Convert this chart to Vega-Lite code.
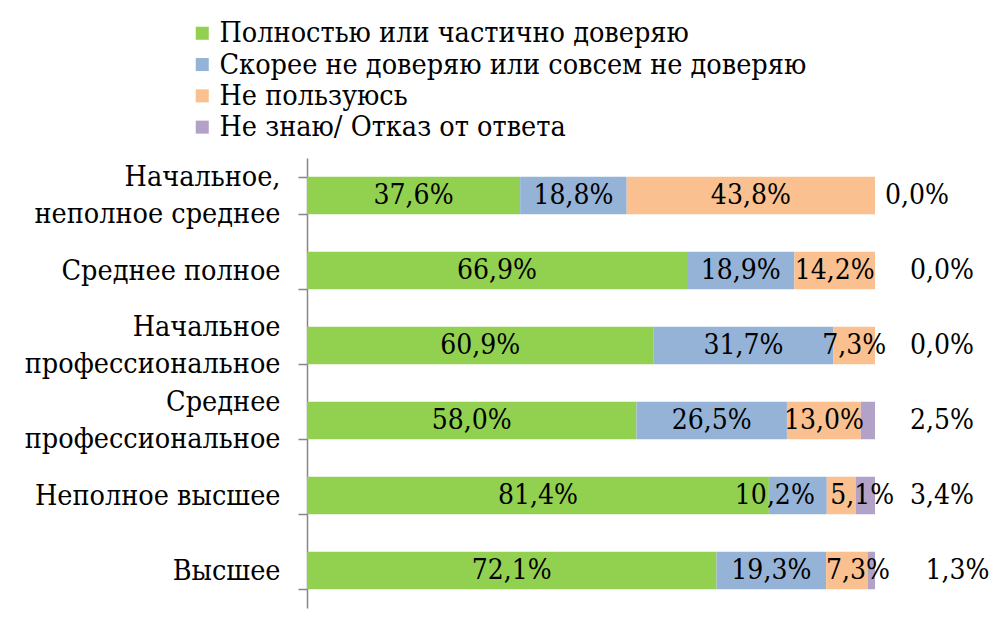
{
  "$schema": "https://vega.github.io/schema/vega-lite/v6.json",
  "autosize": {"type": "none"},
  "width": 568,
  "height": 450,
  "padding": {"left": 307, "top": 158, "right": 123, "bottom": 9},
  "background": "white",
  "config": {
    "view": {"stroke": null},
    "text": {"font": "DejaVu Serif Condensed", "fontSize": 28, "color": "#000000", "align": "center", "baseline": "middle"},
    "locale": {"number": {"decimal": ",", "thousands": " ", "grouping": [3], "currency": ["", " ₽"], "percent": "%"}}
  },
  "data": {
    "values": [
      {"edu": "Начальное, неполное среднее", "k": 1, "series": "Полностью или частично доверяю", "value": 0.376},
      {"edu": "Начальное, неполное среднее", "k": 2, "series": "Скорее не доверяю или совсем не доверяю", "value": 0.188},
      {"edu": "Начальное, неполное среднее", "k": 3, "series": "Не пользуюсь", "value": 0.438},
      {"edu": "Начальное, неполное среднее", "k": 4, "series": "Не знаю/ Отказ от ответа", "value": 0.0},
      {"edu": "Среднее полное", "k": 1, "series": "Полностью или частично доверяю", "value": 0.669},
      {"edu": "Среднее полное", "k": 2, "series": "Скорее не доверяю или совсем не доверяю", "value": 0.189},
      {"edu": "Среднее полное", "k": 3, "series": "Не пользуюсь", "value": 0.142},
      {"edu": "Среднее полное", "k": 4, "series": "Не знаю/ Отказ от ответа", "value": 0.0},
      {"edu": "Начальное профессиональное", "k": 1, "series": "Полностью или частично доверяю", "value": 0.609},
      {"edu": "Начальное профессиональное", "k": 2, "series": "Скорее не доверяю или совсем не доверяю", "value": 0.317},
      {"edu": "Начальное профессиональное", "k": 3, "series": "Не пользуюсь", "value": 0.073},
      {"edu": "Начальное профессиональное", "k": 4, "series": "Не знаю/ Отказ от ответа", "value": 0.0},
      {"edu": "Среднее профессиональное", "k": 1, "series": "Полностью или частично доверяю", "value": 0.58},
      {"edu": "Среднее профессиональное", "k": 2, "series": "Скорее не доверяю или совсем не доверяю", "value": 0.265},
      {"edu": "Среднее профессиональное", "k": 3, "series": "Не пользуюсь", "value": 0.13},
      {"edu": "Среднее профессиональное", "k": 4, "series": "Не знаю/ Отказ от ответа", "value": 0.025},
      {"edu": "Неполное высшее", "k": 1, "series": "Полностью или частично доверяю", "value": 0.814},
      {"edu": "Неполное высшее", "k": 2, "series": "Скорее не доверяю или совсем не доверяю", "value": 0.102},
      {"edu": "Неполное высшее", "k": 3, "series": "Не пользуюсь", "value": 0.051},
      {"edu": "Неполное высшее", "k": 4, "series": "Не знаю/ Отказ от ответа", "value": 0.034},
      {"edu": "Высшее", "k": 1, "series": "Полностью или частично доверяю", "value": 0.721},
      {"edu": "Высшее", "k": 2, "series": "Скорее не доверяю или совсем не доверяю", "value": 0.193},
      {"edu": "Высшее", "k": 3, "series": "Не пользуюсь", "value": 0.073},
      {"edu": "Высшее", "k": 4, "series": "Не знаю/ Отказ от ответа", "value": 0.013}
    ]
  },
  "transform": [
    {"stack": "value", "groupby": ["edu"], "sort": [{"field": "k", "order": "ascending"}], "offset": "normalize", "as": ["v0", "v1"]},
    {"calculate": "(datum.v0 + datum.v1) / 2", "as": "mid"}
  ],
  "encoding": {
    "y": {
      "field": "edu", "type": "nominal", "title": null,
      "sort": ["Начальное, неполное среднее", "Среднее полное", "Начальное профессиональное", "Среднее профессиональное", "Неполное высшее", "Высшее"],
      "scale": {"paddingInner": 0.5, "paddingOuter": 0.25},
      "axis": {
        "domainColor": "#868686", "domainWidth": 1.5,
        "tickColor": "#868686", "tickWidth": 1.5, "tickSize": 9, "tickBand": "extent",
        "labelPadding": 18, "labelFontSize": 28.5, "labelColor": "#000000", "labelFont": "DejaVu Serif Condensed",
        "labelLineHeight": 37, "labelLimit": 400,
        "labelOffset": {"condition": {"test": "indexof(['Начальное, неполное среднее', 'Начальное профессиональное', 'Среднее профессиональное'], datum.value) >= 0", "value": -19}, "value": 0},
        "labelExpr": "datum.label == 'Начальное, неполное среднее' ? ['Начальное,', 'неполное среднее'] : datum.label == 'Начальное профессиональное' ? ['Начальное', 'профессиональное'] : datum.label == 'Среднее профессиональное' ? ['Среднее', 'профессиональное'] : datum.label"
      }
    }
  },
  "layer": [
    {
      "mark": {"type": "bar"},
      "encoding": {
        "x": {"field": "v0", "type": "quantitative", "scale": {"domain": [0, 1], "nice": false, "zero": true}, "axis": null},
        "x2": {"field": "v1"},
        "color": {
          "field": "series", "type": "nominal",
          "scale": {
            "domain": ["Полностью или частично доверяю", "Скорее не доверяю или совсем не доверяю", "Не пользуюсь", "Не знаю/ Отказ от ответа"],
            "range": ["#92D050", "#95B3D7", "#FAC090", "#B3A2C7"]
          },
          "legend": {
            "title": null, "orient": "none", "legendX": -119, "legendY": -139,
            "direction": "vertical", "symbolType": "square", "symbolSize": 170, "symbolStrokeWidth": 0,
            "labelFontSize": 28.5, "labelColor": "#000000", "labelLimit": 800, "labelFont": "DejaVu Serif Condensed",
            "rowPadding": 2.3, "labelOffset": 3, "padding": 0
          }
        }
      }
    },
    {
      "transform": [{"filter": "datum.k < 4 && !(datum.edu == 'Неполное высшее' && datum.k > 1) && !(datum.edu == 'Высшее' && datum.k == 3)"}],
      "mark": {"type": "text"},
      "encoding": {
        "x": {"field": "mid", "type": "quantitative"},
        "text": {"field": "value", "type": "quantitative", "format": ".1%"}
      }
    },
    {
      "transform": [{"filter": "datum.edu == 'Неполное высшее' && datum.k == 2"}],
      "mark": {"type": "text", "dx": -23},
      "encoding": {
        "x": {"field": "mid", "type": "quantitative"},
        "text": {"field": "value", "type": "quantitative", "format": ".1%"}
      }
    },
    {
      "transform": [{"filter": "datum.edu == 'Неполное высшее' && datum.k == 3"}],
      "mark": {"type": "text", "dx": 21},
      "encoding": {
        "x": {"field": "mid", "type": "quantitative"},
        "text": {"field": "value", "type": "quantitative", "format": ".1%"}
      }
    },
    {
      "transform": [{"filter": "datum.edu == 'Высшее' && datum.k == 3"}],
      "mark": {"type": "text", "dx": 11},
      "encoding": {
        "x": {"field": "mid", "type": "quantitative"},
        "text": {"field": "value", "type": "quantitative", "format": ".1%"}
      }
    },
    {
      "transform": [{"filter": "datum.k == 4 && datum.edu != 'Начальное, неполное среднее' && datum.edu != 'Высшее'"}],
      "mark": {"type": "text"},
      "encoding": {
        "x": {"datum": 1.118, "type": "quantitative"},
        "text": {"field": "value", "type": "quantitative", "format": ".1%"}
      }
    },
    {
      "transform": [{"filter": "datum.k == 4 && datum.edu == 'Начальное, неполное среднее'"}],
      "mark": {"type": "text"},
      "encoding": {
        "x": {"datum": 1.074, "type": "quantitative"},
        "text": {"field": "value", "type": "quantitative", "format": ".1%"}
      }
    },
    {
      "transform": [{"filter": "datum.k == 4 && datum.edu == 'Высшее'"}],
      "mark": {"type": "text"},
      "encoding": {
        "x": {"datum": 1.145, "type": "quantitative"},
        "text": {"field": "value", "type": "quantitative", "format": ".1%"}
      }
    }
  ]
}
